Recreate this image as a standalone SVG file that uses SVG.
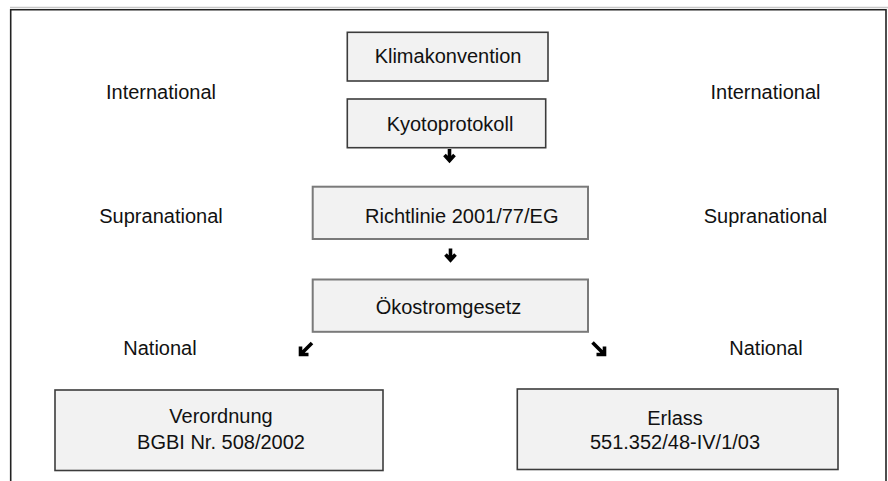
<svg xmlns="http://www.w3.org/2000/svg" width="888" height="481" viewBox="0 0 888 481">
<style>
text{font-family:"Liberation Sans",Arial,sans-serif;font-size:20px;fill:#111}
.c{text-anchor:middle}
.b1{fill:#f2f2f2;stroke:#3c3c3c;stroke-width:1.6}
.b2{fill:#f2f2f2;stroke:#7a7a7a;stroke-width:2}
.arr{fill:none;stroke:#000;stroke-width:3.6;stroke-linejoin:miter;stroke-linecap:butt}
</style>
<rect x="0" y="0" width="888" height="481" fill="#fff"/>
<g id="frame">
<line x1="10" y1="7.5" x2="888" y2="7.5" stroke="#c8c8c8" stroke-width="1.5"/>
<polyline points="10.7,481 10.7,9.7 886,9.7 886,481" fill="none" stroke="#222" stroke-width="1.6"/>
</g>
<g id="levels">
<text class="c" x="161" y="99">International</text>
<text class="c" x="161" y="223">Supranational</text>
<text class="c" x="160" y="355">National</text>
<text class="c" x="765.5" y="99">International</text>
<text class="c" x="765.5" y="223">Supranational</text>
<text class="c" x="766" y="355">National</text>
</g>
<g id="klimakonvention">
<rect class="b1" x="347.3" y="32.3" width="200.7" height="48.7"/>
<text class="c" x="448" y="63">Klimakonvention</text>
</g>
<g id="kyotoprotokoll">
<rect class="b1" x="347.3" y="99" width="198.4" height="48.7"/>
<text class="c" x="450" y="131">Kyotoprotokoll</text>
</g>
<g id="richtlinie">
<rect class="b2" x="312.7" y="186.7" width="275.3" height="52.3"/>
<text x="365" y="223">Richtlinie 2001/77/EG</text>
</g>
<g id="oekostromgesetz">
<rect class="b2" x="312.7" y="279.5" width="275.3" height="52.3"/>
<text class="c" x="448.5" y="314">Ökostromgesetz</text>
</g>
<g id="verordnung">
<rect class="b1" x="55" y="390" width="328" height="80.5"/>
<text class="c" x="221" y="423">Verordnung</text>
<text class="c" x="221" y="449">BGBI Nr. 508/2002</text>
</g>
<g id="erlass">
<rect class="b1" x="517.3" y="389" width="320.7" height="80.5"/>
<text class="c" x="675" y="425">Erlass</text>
<text class="c" x="675" y="449">551.352/48-IV/1/03</text>
</g>
<g id="connectors">
<path class="arr" d="M449.5,149 V160.5 M444.5,155 L449.5,160.5 L454.5,155"/>
<path class="arr" d="M450.5,248.5 V260 M445.5,254.5 L450.5,260 L455.5,254.5"/>
<path class="arr" d="M312,343 L300.5,354.5 M300.5,346.5 V354.5 H308.5"/>
<path class="arr" d="M592.5,342.5 L604.5,354.5 M604.5,346.5 V354.5 H596.5"/>
</g>
</svg>
